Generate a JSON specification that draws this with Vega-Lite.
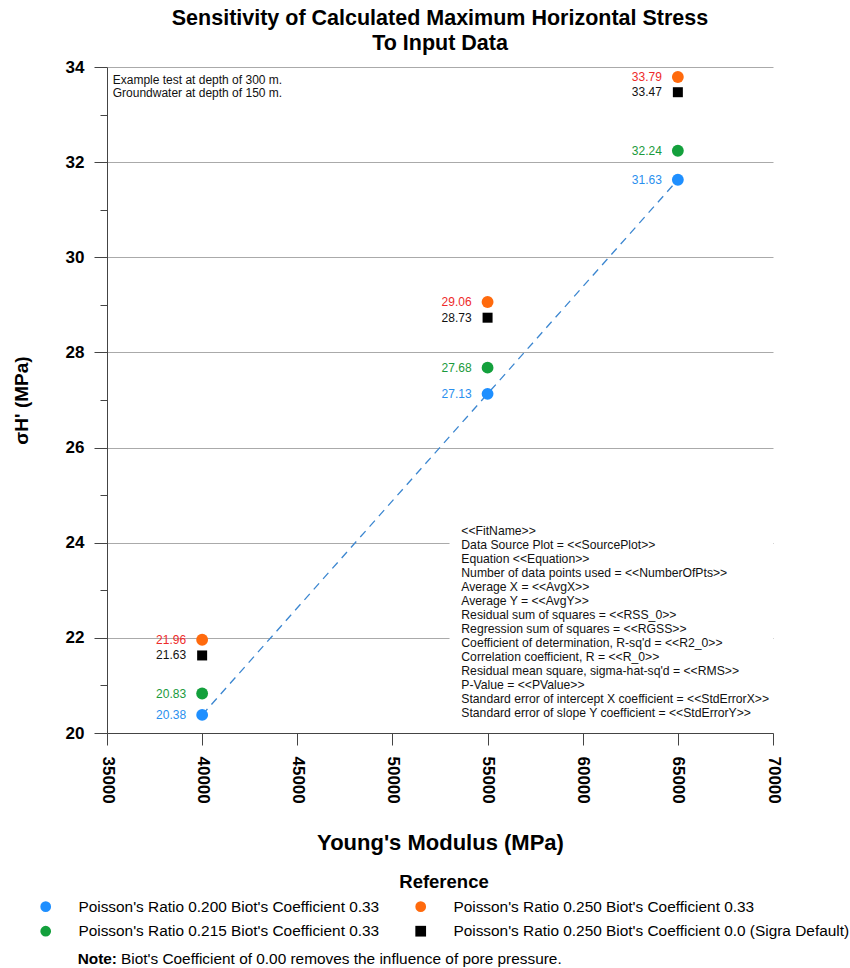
{
  "$schema": "https://vega.github.io/schema/vega-lite/v6.json",
  "padding": {"left": 12, "top": 7, "right": 0, "bottom": 0},
  "background": "white",
  "config": {"font": "Liberation Sans", "view": {"stroke": null}},
  "spacing": 11,
  "resolve": {"scale": {"color": "independent", "shape": "independent", "size": "independent", "x": "independent", "y": "independent"}},
  "vconcat": [
    {
      "width": 666,
      "height": 666,
      "title": {
        "text": ["Sensitivity of Calculated Maximum Horizontal Stress", "To Input Data"],
        "fontSize": 21.5,
        "fontWeight": "bold",
        "lineHeight": 25,
        "offset": 4,
        "anchor": "middle",
        "color": "#000"
      },
      "data": {
        "values": [
          {"E": 40000, "sigma": 20.38, "series": "Poisson's Ratio 0.200 Biot's Coefficient 0.33"},
          {"E": 55000, "sigma": 27.13, "series": "Poisson's Ratio 0.200 Biot's Coefficient 0.33"},
          {"E": 65000, "sigma": 31.63, "series": "Poisson's Ratio 0.200 Biot's Coefficient 0.33"},
          {"E": 40000, "sigma": 21.96, "series": "Poisson's Ratio 0.250 Biot's Coefficient 0.33"},
          {"E": 55000, "sigma": 29.06, "series": "Poisson's Ratio 0.250 Biot's Coefficient 0.33"},
          {"E": 65000, "sigma": 33.79, "series": "Poisson's Ratio 0.250 Biot's Coefficient 0.33"},
          {"E": 40000, "sigma": 20.83, "series": "Poisson's Ratio 0.215 Biot's Coefficient 0.33"},
          {"E": 55000, "sigma": 27.68, "series": "Poisson's Ratio 0.215 Biot's Coefficient 0.33"},
          {"E": 65000, "sigma": 32.24, "series": "Poisson's Ratio 0.215 Biot's Coefficient 0.33"},
          {"E": 40000, "sigma": 21.63, "series": "Poisson's Ratio 0.250 Biot's Coefficient 0.0 (Sigra Default)"},
          {"E": 55000, "sigma": 28.73, "series": "Poisson's Ratio 0.250 Biot's Coefficient 0.0 (Sigra Default)"},
          {"E": 65000, "sigma": 33.47, "series": "Poisson's Ratio 0.250 Biot's Coefficient 0.0 (Sigra Default)"}
        ]
      },
      "layer": [
        {
          "data": {"values": [{}]},
          "mark": {"type": "rect", "color": "white"},
          "encoding": {
            "x": {
              "datum": 53000, "type": "quantitative",
              "scale": {"domain": [35000, 70000], "nice": false, "zero": false},
              "axis": {
                "values": [35000, 40000, 45000, 50000, 55000, 60000, 65000, 70000],
                "format": "d",
                "labelAngle": 90,
                "labelFontSize": 17,
                "labelFontWeight": "bold",
                "labelColor": "#000",
                "labelPadding": 11,
                "tickSize": 12,
                "tickColor": "#444",
                "domainColor": "#444",
                "grid": false,
                "title": "Young's Modulus (MPa)",
                "titleFontSize": 22,
                "titleFontWeight": "bold",
                "titleColor": "#000",
                "titlePadding": 29
              }
            },
            "x2": {"datum": 70000},
            "y": {
              "datum": 24.45, "type": "quantitative",
              "scale": {"domain": [20, 34], "nice": false, "zero": false},
              "axis": {
                "values": [20, 21, 22, 23, 24, 25, 26, 27, 28, 29, 30, 31, 32, 33, 34],
                "labelExpr": "datum.value % 2 === 0 ? datum.label : ''",
                "labelFontSize": 17,
                "labelFontWeight": "bold",
                "labelColor": "#000",
                "labelPadding": 10,
                "tickSize": {"condition": {"test": "datum.value % 2 === 1", "value": 7}, "value": 13},
                "tickColor": "#444",
                "domainColor": "#444",
                "grid": true,
                "gridColor": "#aaaaaa",
                "gridOpacity": {"condition": {"test": "datum.value % 2 === 1", "value": 0}, "value": 1},
                "title": "σH' (MPa)",
                "titleFontSize": 19,
                "titleFontWeight": "bold",
                "titleColor": "#000",
                "titlePadding": 34
              }
            },
            "y2": {"datum": 20.12}
          }
        },
        {
          "transform": [{"filter": "test(/0\\.200/, datum.series)"}],
          "mark": {"type": "line", "strokeDash": [8, 6], "strokeWidth": 1.3, "color": "#3b86d0"},
          "encoding": {
            "x": {"field": "E", "type": "quantitative"},
            "y": {"field": "sigma", "type": "quantitative"}
          }
        },
        {
          "mark": {"type": "point", "filled": true, "opacity": 1},
          "encoding": {
            "x": {"field": "E", "type": "quantitative"},
            "y": {"field": "sigma", "type": "quantitative"},
            "color": {
              "field": "series", "type": "nominal",
              "scale": {
                "domain": [
                  "Poisson's Ratio 0.200 Biot's Coefficient 0.33",
                  "Poisson's Ratio 0.250 Biot's Coefficient 0.33",
                  "Poisson's Ratio 0.215 Biot's Coefficient 0.33",
                  "Poisson's Ratio 0.250 Biot's Coefficient 0.0 (Sigra Default)"
                ],
                "range": ["#1e8fff", "#ff6a0d", "#13a03c", "#000000"]
              },
              "legend": {
                "title": "Reference",
                "orient": "none",
                "legendX": -69,
                "legendY": 806,
                "direction": "horizontal",
                "columns": 2,
                "titleAnchor": "middle",
                "titleFontSize": 18.5,
                "titleFontWeight": "bold",
                "titleColor": "#000",
                "titlePadding": 7,
                "labelFontSize": 15.4,
                "labelColor": "#000",
                "labelLimit": 500,
                "labelOffset": 25,
                "symbolSize": 115,
                "columnPadding": 33,
                "rowPadding": 8,
                "offset": 20
              }
            },
            "shape": {
              "field": "series", "type": "nominal",
              "scale": {
                "domain": [
                  "Poisson's Ratio 0.200 Biot's Coefficient 0.33",
                  "Poisson's Ratio 0.250 Biot's Coefficient 0.33",
                  "Poisson's Ratio 0.215 Biot's Coefficient 0.33",
                  "Poisson's Ratio 0.250 Biot's Coefficient 0.0 (Sigra Default)"
                ],
                "range": ["circle", "circle", "circle", "square"]
              },
              "legend": {
                "title": "Reference",
                "orient": "none",
                "legendX": -69,
                "legendY": 806,
                "direction": "horizontal",
                "columns": 2,
                "titleAnchor": "middle",
                "titleFontSize": 18.5,
                "titleFontWeight": "bold",
                "titleColor": "#000",
                "titlePadding": 7,
                "labelFontSize": 15.4,
                "labelColor": "#000",
                "labelLimit": 500,
                "labelOffset": 25,
                "symbolSize": 115,
                "columnPadding": 33,
                "rowPadding": 8,
                "offset": 20
              }
            },
            "size": {
              "condition": {"test": "test(/Sigra/, datum.series)", "value": 100},
              "value": 140
            }
          }
        },
        {
          "mark": {"type": "text", "align": "right", "baseline": "middle", "dx": -16, "fontSize": 12},
          "encoding": {
            "x": {"field": "E", "type": "quantitative"},
            "y": {"field": "sigma", "type": "quantitative"},
            "text": {"field": "sigma", "type": "quantitative", "format": ".2f"},
            "color": {
              "condition": [
                {"test": "test(/0\\.200/, datum.series)", "value": "#2a8fee"},
                {"test": "test(/0\\.215/, datum.series)", "value": "#1a9a3c"},
                {"test": "test(/Sigra/, datum.series)", "value": "#111111"}
              ],
              "value": "#ee2a2a"
            }
          }
        },
        {
          "data": {"values": [{}]},
          "mark": {
            "type": "text", "align": "left", "baseline": "top", "fontSize": 12, "lineHeight": 13, "color": "#111",
            "text": ["Example test at depth of 300 m.", "Groundwater at depth of 150 m."]
          },
          "encoding": {
            "x": {"datum": 35300, "type": "quantitative"},
            "y": {"datum": 33.84, "type": "quantitative"}
          }
        },
        {
          "data": {"values": [{}]},
          "mark": {
            "type": "text", "align": "left", "baseline": "top", "fontSize": 12.2, "lineHeight": 14, "color": "#111",
            "text": [
              "<<FitName>>",
              "Data Source Plot = <<SourcePlot>>",
              "Equation <<Equation>>",
              "Number of data points used = <<NumberOfPts>>",
              "Average X = <<AvgX>>",
              "Average Y = <<AvgY>>",
              "Residual sum of squares = <<RSS_0>>",
              "Regression sum of squares = <<RGSS>>",
              "Coefficient of determination, R-sq'd = <<R2_0>>",
              "Correlation coefficient, R = <<R_0>>",
              "Residual mean square, sigma-hat-sq'd = <<RMS>>",
              "P-Value = <<PValue>>",
              "Standard error of intercept X coefficient = <<StdErrorX>>",
              "Standard error of slope Y coefficient = <<StdErrorY>>"
            ]
          },
          "encoding": {
            "x": {"datum": 53620, "type": "quantitative"},
            "y": {"datum": 24.37, "type": "quantitative"}
          }
        }
      ]
    },
    {
      "width": 800,
      "height": 16,
      "data": {"values": [{}]},
      "layer": [
        {
          "mark": {"type": "text", "text": "Note:", "fontWeight": "bold", "fontSize": 15.4, "align": "right", "color": "#000"},
          "encoding": {
            "x": {"datum": 10, "type": "quantitative", "scale": {"domain": [0, 800]}, "axis": null}
          }
        },
        {
          "mark": {"type": "text", "text": "Biot's Coefficient of 0.00 removes the influence of pore pressure.", "fontSize": 15.4, "align": "left", "dx": 4, "color": "#000"},
          "encoding": {
            "x": {"datum": 10, "type": "quantitative"}
          }
        }
      ]
    }
  ]
}
